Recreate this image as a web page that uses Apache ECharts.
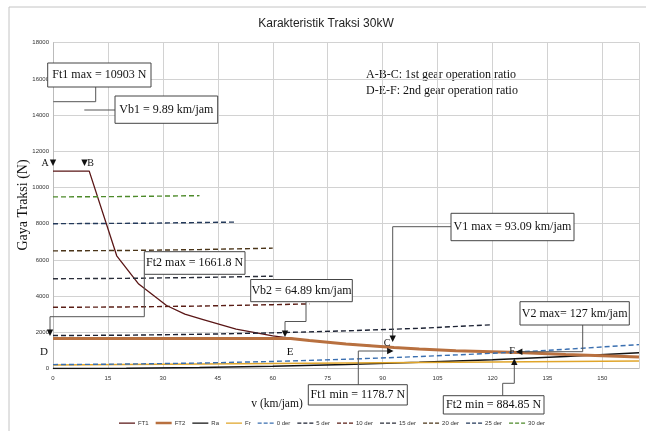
<!DOCTYPE html>
<html><head><meta charset="utf-8">
<script src="https://cdn.jsdelivr.net/npm/echarts@6/dist/echarts.min.js"></script>
<style>html,body{margin:0;padding:0;background:#fff}#c{width:646px;height:431px}</style>
</head><body><div id="c"></div>
<script>
// ---- data ----
const titleText = 'Karakteristik Traksi 30kW';
const xAxisName = 'v (km/jam)';
const yAxisName = 'Gaya Traksi (N)';
const seriesNames = ['FT1','FT2','Ra','Fr','0 der','5 der','10 der','15 der','20 der','25 der','30 der'];

const ft1Speed = [0, 9.89, 17.4, 23.4, 31, 36, 41, 50, 60, 70, 80, 93.09];
const ft1Force = [10903, 10903, 6226, 4667, 3480, 3000, 2700, 2170, 1800, 1545, 1355, 1178.7];
const ft2Speed = [0, 64.89, 70, 80, 93.09, 100, 110, 127, 140, 160];
const ft2Force = [1661.8, 1661.8, 1545, 1355, 1165, 1080, 985, 884.85, 780, 630];
const resSpeed = [0, 20, 40, 60, 80, 100, 120, 140, 160];
const raForce  = [0, 14, 54, 122, 218, 340, 490, 666, 870];
const frForce  = [200, 225, 250, 275, 300, 330, 355, 390, 420];
const der0     = [215, 245, 300, 390, 510, 660, 840, 1060, 1320];
const der5Speed  = [0, 20, 40, 60, 80, 100, 120];
const der5       = [1820, 1840, 1890, 1970, 2080, 2220, 2420];
const der10Speed = [0, 20, 40, 60, 70];
const der10      = [3380, 3400, 3450, 3525, 3570];
const der15Speed = [0, 20, 40, 60];
const der15      = [4960, 4980, 5030, 5100];
const der20Speed = [0, 20, 40, 60];
const der20      = [6500, 6520, 6570, 6650];
const der25Speed = [0, 25, 50];
const der25      = [8000, 8025, 8090];
const der30Speed = [0, 20, 40];
const der30      = [9480, 9500, 9550];

const annotationTexts = {
  ft1max: 'Ft1 max = 10903 N', vb1: 'Vb1 = 9.89 km/jam', ft2max: 'Ft2 max = 1661.8 N',
  vb2: 'Vb2 = 64.89 km/jam', v1max: 'V1 max = 93.09 km/jam', ft1min: 'Ft1 min = 1178.7 N',
  v2max: 'V2 max= 127 km/jam', ft2min: 'Ft2 min = 884.85 N',
  note1: 'A-B-C: 1st gear operation ratio', note2: 'D-E-F: 2nd gear operation ratio'
};

// ---- build ----
const zip = (xs, ys) => xs.map((x, i) => [x, ys[i]]);
const SERIF = '"Liberation Serif","Times New Roman",serif';
const NARROW = '"Liberation Sans Narrow","Liberation Sans",Arial,sans-serif';

const ICON_BOUNDS = 'M0,0h0.01v0.01H0z M15.99,7.99h0.01V8h-0.01z ';
const ICON_SOLID = 'path://' + ICON_BOUNDS + 'M0,3.4h16v1.3H0z';
const ICON_THICK = 'path://' + ICON_BOUNDS + 'M0,2.8h16v2.5H0z';
const ICON_DASH  = 'path://' + ICON_BOUNDS + 'M0,3.4h4v1.3H0z M6,3.4h4v1.3H6z M12,3.4h4v1.3h-4z';

function lineSeries(name, xs, ys, color, width, dashed, z) {
  return {
    name, type: 'line', data: zip(xs, ys), symbol: 'none', z: z || 2,
    lineStyle: { color, width, type: dashed ? [5, 3] : 'solid' },
    itemStyle: { color }, animation: false
  };
}

const series = [
  lineSeries('FT1', ft1Speed, ft1Force, '#5a1616', 1.3, false, 3),
  lineSeries('FT2', ft2Speed, ft2Force, '#b8703f', 3, false, 4),
  lineSeries('Ra', resSpeed, raForce, '#111111', 1.5, false, 3),
  lineSeries('Fr', resSpeed, frForce, '#e0a52a', 1.5, false, 3),
  lineSeries('0 der', resSpeed, der0, '#3a6fb0', 1.4, true, 5),
  lineSeries('5 der', der5Speed, der5, '#1c2233', 1.4, true, 5),
  lineSeries('10 der', der10Speed, der10, '#5a1e16', 1.4, true, 5),
  lineSeries('15 der', der15Speed, der15, '#2a2e3a', 1.4, true, 5),
  lineSeries('20 der', der20Speed, der20, '#4a3418', 1.4, true, 5),
  lineSeries('25 der', der25Speed, der25, '#23395a', 1.4, true, 5),
  lineSeries('30 der', der30Speed, der30, '#4d8a2a', 1.4, true, 5)
];

const legendData = seriesNames.map((name, i) => ({
  name, icon: i === 1 ? ICON_THICK : (i < 4 ? ICON_SOLID : ICON_DASH)
}));

function box(x, y, w, h, text) {
  return [
    { type: 'rect', shape: { x, y, width: w, height: h }, style: { fill: '#fff', stroke: '#444', lineWidth: 1 }, z: 50 },
    { type: 'text', x: x + w / 2, y: y + h / 2, z: 51,
      style: { text, fill: '#111', font: '12px ' + SERIF, textAlign: 'center', textVerticalAlign: 'middle' } }
  ];
}
function leader(points) {
  return { type: 'polyline', shape: { points }, style: { stroke: '#555', lineWidth: 1, fill: null }, z: 45 };
}
function arrow(x, y, dir) {
  const s = 3.2;
  let pts;
  if (dir === 'down') pts = [[x - s, y - 2 * s], [x + s, y - 2 * s], [x, y]];
  else if (dir === 'up') pts = [[x - s, y + 2 * s], [x + s, y + 2 * s], [x, y]];
  else if (dir === 'right') pts = [[x - 2 * s, y - s], [x - 2 * s, y + s], [x, y]];
  else pts = [[x + 2 * s, y - s], [x + 2 * s, y + s], [x, y]];
  return { type: 'polygon', shape: { points: pts }, style: { fill: '#111' }, z: 46 };
}
function label(x, y, text, size) {
  return { type: 'text', x, y, z: 47,
    style: { text, fill: '#111', font: (size || 10) + 'px ' + SERIF, textAlign: 'center', textVerticalAlign: 'middle' } };
}

const graphic = [
  { type: 'rect', shape: { x: 9, y: 7, width: 700, height: 500 }, style: { fill: null, stroke: '#c4c4c4', lineWidth: 1 }, z: 0, silent: true },
  { type: 'text', x: 326, y: 24, style: { text: titleText, fill: '#222', font: '12px ' + NARROW, textAlign: 'center', textVerticalAlign: 'middle' } },
  { type: 'text', x: 23, y: 205, rotation: Math.PI / 2,
    style: { text: yAxisName, fill: '#111', font: '14px ' + SERIF, textAlign: 'center', textVerticalAlign: 'middle' } },
  { type: 'text', x: 277, y: 404, style: { text: xAxisName, fill: '#111', font: '11.5px ' + SERIF, textAlign: 'center', textVerticalAlign: 'middle' } },
  { type: 'text', x: 366, y: 75, style: { text: annotationTexts.note1, fill: '#111', font: '12px ' + SERIF, textAlign: 'left', textVerticalAlign: 'middle' } },
  { type: 'text', x: 366, y: 91, style: { text: annotationTexts.note2, fill: '#111', font: '12px ' + SERIF, textAlign: 'left', textVerticalAlign: 'middle' } },
  ...box(47.7, 63, 103.3, 24, annotationTexts.ft1max),
  ...box(115, 96, 102.7, 27.3, annotationTexts.vb1),
  ...box(144.3, 251.7, 100.7, 22.6, annotationTexts.ft2max),
  ...box(250.7, 279.5, 101.6, 22.2, annotationTexts.vb2),
  ...box(451, 213.3, 123, 27.4, annotationTexts.v1max),
  ...box(308.3, 384.7, 99, 20.3, annotationTexts.ft1min),
  ...box(520, 301.7, 109.3, 23.3, annotationTexts.v2max),
  ...box(443.3, 395.7, 100.7, 18.3, annotationTexts.ft2min),
  leader([[95.7, 87], [95.7, 101.7], [53.3, 101.7]]),
  leader([[84.3, 110], [115, 110]]),
  leader([[144.3, 274.3], [144.3, 316.7], [50, 316.7], [50, 331]]), arrow(50, 336, 'down'),
  leader([[306, 301.7], [306, 321.5], [285, 321.5], [285, 332]]), arrow(285, 337, 'down'),
  leader([[451, 226.7], [392.7, 226.7], [392.7, 337]]), arrow(392.7, 342, 'down'),
  leader([[358.3, 384.7], [358.3, 351], [388, 351]]), arrow(393.5, 351, 'right'),
  leader([[582.7, 325], [582.7, 351.7], [521, 351.7]]), arrow(516, 351.7, 'left'),
  leader([[502.7, 395.7], [502.7, 383.3], [514.3, 383.3], [514.3, 364]]), arrow(514.3, 358.5, 'up'),
  label(45, 163, 'A', 10), arrow(53, 166, 'down'),
  label(90.5, 163, 'B', 10), arrow(84.5, 166, 'down'),
  label(44, 352, 'D', 11), label(290, 352, 'E', 11),
  label(387, 343, 'C', 10), label(512, 351, 'F', 10)
];

const chart = echarts.init(document.getElementById('c'), null, { renderer: 'canvas' });
chart.setOption({
  animation: false,
  backgroundColor: '#fff',
  grid: { left: 53, right: 7, top: 42.7, bottom: 62.5, containLabel: false },
  xAxis: {
    type: 'value', min: 0, max: 160, interval: 15,
    axisLine: { show: true, onZero: false, lineStyle: { color: '#bbb' } },
    axisTick: { show: false },
    axisLabel: { fontSize: 6, color: '#333', fontFamily: NARROW, margin: 7, showMaxLabel: false },
    splitLine: { show: true, lineStyle: { color: '#d2d2d2', width: 1 } }
  },
  yAxis: {
    type: 'value', min: 0, max: 18000, interval: 2000,
    axisLine: { show: true, lineStyle: { color: '#bbb' } },
    axisTick: { show: false },
    axisLabel: { fontSize: 6, color: '#333', fontFamily: NARROW, margin: 4, formatter: v => String(v) },
    splitLine: { show: true, lineStyle: { color: '#d2d2d2', width: 1 } }
  },
  legend: {
    data: legendData, left: 114, top: 414, itemWidth: 16, itemHeight: 8, itemGap: 7,
    itemStyle: { borderWidth: 0 },
    textStyle: { fontSize: 6, color: '#333', fontFamily: NARROW, padding: [0, 0, 0, -2] }
  },
  series,
  graphic
});
</script></body></html>
